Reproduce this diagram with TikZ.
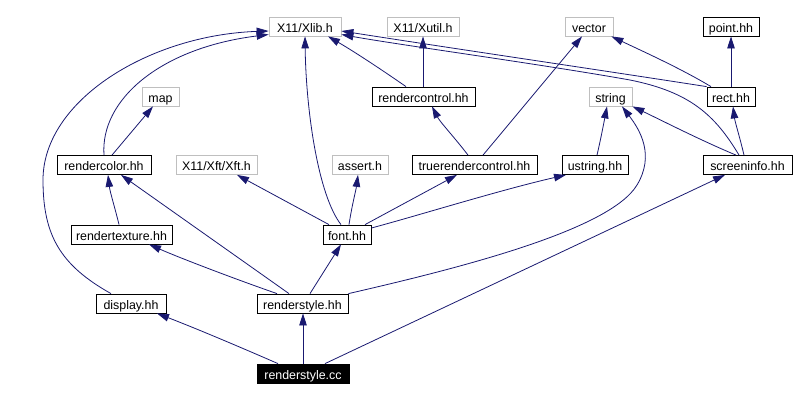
\documentclass[tikz,border=0pt]{standalone}
\usepackage{fontspec}
\setmainfont{Liberation Sans}
\usetikzlibrary{arrows.meta}
\definecolor{edgeblue}{HTML}{191970}
\definecolor{extgray}{HTML}{BFBFBF}
\begin{document}
\begin{tikzpicture}[x=1bp,y=-1bp,
  box/.style={draw=black, fill=white, line width=0.8bp, inner sep=0pt,
    minimum height=19bp, text height=11bp, text depth=0pt,
    font=\fontsize{12.4bp}{14bp}\selectfont, anchor=center},
  docbox/.style={box},
  extbox/.style={box, draw=extgray},
  selbox/.style={box, fill=black, text=white},
  dep/.style={draw=edgeblue, line width=0.8bp, -{Triangle[length=12bp,width=7.5bp]}}
]
\useasboundingbox (0,0) rectangle (796,401);

\node[extbox, minimum width=72bp] (xlib) at (305,26.5) {X11/Xlib.h};
\node[extbox, minimum width=72bp] (xutil) at (423,26.5) {X11/Xutil.h};
\node[extbox, minimum width=48bp] (vector) at (589,26.5) {vector};
\node[docbox, minimum width=56bp] (point) at (731,26.5) {point.hh};
\node[extbox, minimum width=37bp] (map) at (160.5,96.5) {map};
\node[docbox, minimum width=103bp] (rctrl) at (423.5,96.5) {rendercontrol.hh};
\node[extbox, minimum width=43bp] (string) at (610.5,96.5) {string};
\node[docbox, minimum width=48bp] (rect) at (731,96.5) {rect.hh};
\node[docbox, minimum width=94bp] (rcolor) at (104,165) {rendercolor.hh};
\node[extbox, minimum width=81bp] (xft) at (216.5,165) {X11/Xft/Xft.h};
\node[extbox, minimum width=56bp] (assert) at (360,165) {assert.h};
\node[docbox, minimum width=125bp] (true) at (474.5,165) {truerendercontrol.hh};
\node[docbox, minimum width=66bp] (ustring) at (595,165) {ustring.hh};
\node[docbox, minimum width=89bp] (screen) at (747.5,165) {screeninfo.hh};
\node[docbox, minimum width=101bp] (rtex) at (121.5,234.5) {rendertexture.hh};
\node[docbox, minimum width=48bp] (font) at (347,234.5) {font.hh};
\node[docbox, minimum width=70bp] (display) at (131,303.5) {display.hh};
\node[docbox, minimum width=91bp] (rstyle) at (302.5,303.5) {renderstyle.hh};
\node[selbox, minimum width=92bp] (cc) at (303,373.5) {renderstyle.cc};

% renderstyle.cc
\draw[dep] ([xshift=-25bp]cc.north) .. controls (240,347) and (195,328) .. ([xshift=26bp]display.south);
\draw[dep] (cc.north) -- (cc.north |- rstyle.south);
\draw[dep] ([xshift=22bp]cc.north) -- ([xshift=-22.5bp]screen.south);
% renderstyle.hh
\draw[dep] ([xshift=-25.5bp]rstyle.north) .. controls (235,279) and (180,258) .. ([xshift=27.5bp]rtex.south);
\draw[dep] ([xshift=-13.5bp]rstyle.north) -- ([xshift=17bp]rcolor.south);
\draw[dep] ([xshift=7.5bp]rstyle.north) -- ([xshift=-6bp]font.south);
\draw[dep] (rstyle.north east) .. controls (460,268) and (610,230) .. (637,185) .. controls (655,155) and (640,130) .. ([xshift=11.5bp]string.south);
% display.hh
\draw[dep] ([xshift=-20bp]display.north) .. controls (60,265) and (43,235) .. (43,180) .. controls (43,100) and (150,35) .. ([yshift=-4.5bp]xlib.west);
% rendertexture.hh
\draw[dep] ([xshift=-2.5bp]rtex.north) .. controls (115,208) and (110,192) .. ([xshift=4bp]rcolor.south);
% rendercolor.hh
\draw[dep] ([xshift=8bp]rcolor.north) -- ([xshift=-7.5bp]map.south);
\draw[dep] (rcolor.north) .. controls (100,100) and (160,48) .. ([yshift=-8bp]xlib.west);
% font.hh
\draw[dep] ([xshift=-18bp]font.north) -- ([xshift=20.5bp]xft.south);
\draw[dep] ([xshift=2bp]font.north) .. controls (352,205) and (356,190) .. ([xshift=-2bp]assert.south);
\draw[dep] ([xshift=-6bp]font.north) .. controls (318,195) and (306,110) .. (xlib.south);
\draw[dep] ([xshift=18bp]font.north) -- ([xshift=-17.5bp]true.south);
\draw[dep] ([yshift=6.5bp]font.east) .. controls (420,215) and (500,190) .. ([xshift=-29bp]ustring.south);
% truerendercontrol.hh
\draw[dep] ([xshift=-6.5bp]true.north) .. controls (455,138) and (440,122) .. ([xshift=8.5bp]rctrl.south);
\draw[dep] ([xshift=8.5bp]true.north) -- ([xshift=-7bp]vector.south);
% rendercontrol.hh
\draw[dep] ([xshift=-17.5bp]rctrl.north) .. controls (385,72) and (355,52) .. ([xshift=23bp]xlib.south);
\draw[dep] (rctrl.north -| xutil.south) -- (xutil.south);
% ustring.hh
\draw[dep] ([xshift=2bp]ustring.north) .. controls (601,138) and (604,122) .. ([xshift=-3.5bp]string.south);
% screeninfo.hh
\draw[dep] ([xshift=-11.5bp]screen.north) .. controls (700,140) and (665,122) .. (string.south east);
\draw[dep] ([xshift=-3.5bp]screen.north) .. controls (740,138) and (735,122) .. ([xshift=2bp]rect.south);
\draw[dep] ([xshift=-8.5bp]screen.north) .. controls (715,115) and (690,92) .. (630,80) .. controls (540,64) and (400,45) .. ([yshift=-8bp]xlib.east);
% rect.hh
\draw[dep] (rect.north west) .. controls (600,70) and (450,48) .. ([yshift=-4.5bp]xlib.east);
\draw[dep] (rect.north) -- (point.south);
\draw[dep] ([xshift=-20bp]rect.north) .. controls (680,68) and (640,50) .. ([xshift=-2bp]vector.south east);
\end{tikzpicture}
\end{document}
